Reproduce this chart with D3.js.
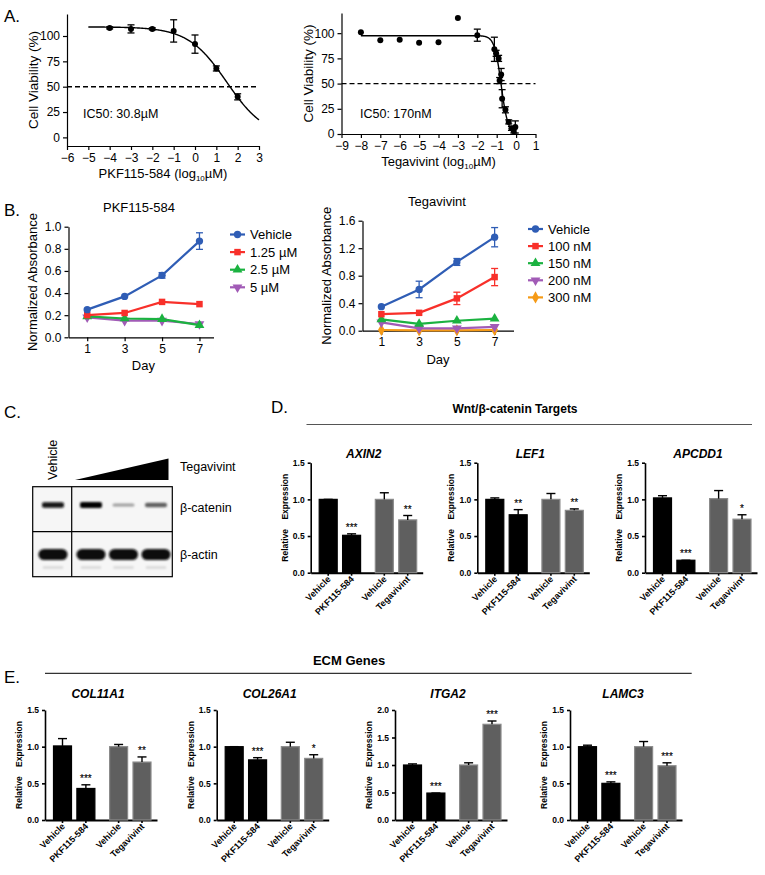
<!DOCTYPE html>
<html>
<head>
<meta charset="utf-8">
<script src="https://cdn.jsdelivr.net/npm/d3@7"></script>
<style>
  body { margin: 0; background: #fff; }
  svg text { font-family: "Liberation Sans", Arial, sans-serif; fill: #000; }
</style>
</head>
<body>
<script>
// ---------- data ----------
// A: dose response (log10 uM, % viability)
var pkfDose = [-4, -3, -2, -1, 0, 1, 2];
var pkfViab = [108, 107, 107, 105, 92, 68, 40];
var pkfErr  = [1, 4, 1, 11, 9, 2.5, 3];
var pkfFit  = { top: 109, bottom: 0, logIC50: 1.489, hill: 0.48, from: -5, to: 3 };

var tegDose = [-8, -7, -6, -5, -4, -3, -2, -1.12, -1.03, -0.9, -0.85, -0.77, -0.72, -0.55, -0.38, -0.24, -0.12, -0.04];
var tegViab = [101, 93, 93.5, 90.5, 91, 115, 98, 84, 80, 75, 53, 59, 35, 24, 12, 5.6, 3, 7];
var tegErr  = [0, 0, 0, 0, 0, 0, 6, 12, 3, 3, 3, 6, 9, 3, 2, 2, 2, 6];
var tegFit  = { top: 97.5, bottom: 0, logIC50: -0.77, hill: 2.5, from: -8, to: -0.02 };

// B: growth curves
var days = [1, 3, 5, 7];
var pkfGrowthLabels = ["Vehicle", "1.25 \u00b5M", "2.5 \u00b5M", "5 \u00b5M"];
var pkfGrowth = [
  [0.25, 0.37, 0.56, 0.87],
  [0.20, 0.22, 0.32, 0.30],
  [0.19, 0.17, 0.165, 0.11],
  [0.18, 0.15, 0.15, 0.12]
];
var pkfGrowthErr = [
  [0.01, 0.01, 0.025, 0.075],
  [0.01, 0.015, 0.015, 0.01],
  [0.01, 0.01, 0.01, 0.01],
  [0.005, 0.005, 0.005, 0.01]
];
var tegGrowthLabels = ["Vehicle", "100 nM", "150 nM", "200 nM", "300 nM"];
var tegGrowth = [
  [0.35, 0.60, 1.00, 1.36],
  [0.24, 0.26, 0.47, 0.78],
  [0.165, 0.10, 0.145, 0.175],
  [0.12, 0.035, 0.035, 0.055],
  [0.01, 0.005, 0.005, 0.01]
];
var tegGrowthErr = [
  [0.01, 0.12, 0.05, 0.14],
  [0.01, 0.01, 0.09, 0.125],
  [0.01, 0.01, 0.01, 0.01],
  [0.01, 0.01, 0.01, 0.01],
  [0, 0, 0, 0]
];
var seriesColors = ["#2f5db5", "#f8302a", "#1bb240", "#a15bb6", "#f59a16"];

// C: western blot band intensities (0..1)
var blotLanes = ["Vehicle", "T1", "T2", "T3"];
var cateninBand = [0.9, 1.0, 0.3, 0.6];
var actinBand = [1, 1, 1, 1];

// D / E: qPCR
var qpcrGroups = ["Vehicle", "PKF115-584", "Vehicle", "Tegavivint"];
var wntGenes = ["AXIN2", "LEF1", "APCDD1"];
var wntMean = [[1.0, 0.51, 1.0, 0.72], [1.0, 0.79, 1.0, 0.85], [1.02, 0.17, 1.01, 0.73]];
var wntErr  = [[0, 0.02, 0.09, 0.06], [0.02, 0.07, 0.08, 0.02], [0.03, 0, 0.11, 0.06]];
var wntStars = [["", "***", "", "**"], ["", "**", "", "**"], ["", "***", "", "*"]];
var wntYMax = [1.5, 1.5, 1.5];

var ecmGenes = ["COL11A1", "COL26A1", "ITGA2", "LAMC3"];
var ecmMean = [[1.01, 0.43, 1.0, 0.79], [1.0, 0.82, 1.0, 0.84], [1.0, 0.49, 1.0, 1.74], [1.0, 0.5, 1.0, 0.74]];
var ecmErr  = [[0.1, 0.05, 0.03, 0.07], [0, 0.03, 0.06, 0.05], [0.02, 0, 0.04, 0.06], [0.02, 0.02, 0.07, 0.04]];
var ecmStars = [["", "***", "", "**"], ["", "***", "", "*"], ["", "***", "", "***"], ["", "***", "", "***"]];
var ecmYMax = [1.5, 1.5, 2.0, 1.5];

// ---------- svg ----------
var svg = d3.select("body").append("svg")
  .attr("width", 765).attr("height", 875);

function letter(t, x, y) {
  svg.append("text").attr("x", x).attr("y", y).attr("font-size", 17).text(t);
}

function styleAxis(g, fs, sw, bold) {
  g.attr("font-family", null).attr("font-size", null);
  g.selectAll("text").attr("font-size", fs).attr("fill", "#000")
    .attr("font-weight", bold ? "bold" : null);
  g.selectAll("line,path").attr("stroke", "#000").attr("stroke-width", sw);
}

// ---------- A ----------
function dosePanel(o) {
  var x = d3.scaleLinear().domain(o.xDomain).range(o.xRange);
  var y = d3.scaleLinear().domain(o.yDomain).range(o.yRange);

  var gx = svg.append("g").attr("transform", "translate(0," + o.yRange[0] + ")")
    .call(d3.axisBottom(x).ticks(o.xDomain[1] - o.xDomain[0]).tickSize(4).tickSizeOuter(0));
  styleAxis(gx, 12, 1.2);
  var gy = svg.append("g").attr("transform", "translate(" + o.xRange[0] + ",0)")
    .call(d3.axisLeft(y).tickValues([0, 25, 50, 75, 100]).tickSize(4).tickSizeOuter(0));
  styleAxis(gy, 12, 1.2);

  // 50% line
  svg.append("line").attr("x1", x(o.xDomain[0])).attr("x2", x(o.xDomain[1]))
    .attr("y1", y(50)).attr("y2", y(50))
    .attr("stroke", "#000").attr("stroke-width", 1.4).attr("stroke-dasharray", "5,3");

  // fitted curve
  var f = o.fit;
  var xs = d3.range(f.from, f.to + 0.001, 0.02);
  svg.append("path")
    .attr("d", d3.line().x(function (d) { return x(d); })
      .y(function (d) { return y(f.bottom + (f.top - f.bottom) / (1 + Math.pow(10, (d - f.logIC50) * f.hill))); })(xs))
    .attr("fill", "none").attr("stroke", "#000").attr("stroke-width", 1.4);

  var pts = o.dose.map(function (d, i) { return { x: d, y: o.viab[i], e: o.err[i] }; });
  var eb = svg.append("g").selectAll("g").data(pts.filter(function (d) { return d.e > 0; })).enter().append("g")
    .attr("stroke", "#000").attr("stroke-width", 1.3);
  eb.append("line").attr("x1", function (d) { return x(d.x); }).attr("x2", function (d) { return x(d.x); })
    .attr("y1", function (d) { return y(d.y - d.e); }).attr("y2", function (d) { return y(d.y + d.e); });
  [-1, 1].forEach(function (s) {
    eb.append("line").attr("x1", function (d) { return x(d.x) - 3.5; }).attr("x2", function (d) { return x(d.x) + 3.5; })
      .attr("y1", function (d) { return y(d.y + s * d.e); }).attr("y2", function (d) { return y(d.y + s * d.e); });
  });
  svg.append("g").selectAll("circle").data(pts).enter().append("circle")
    .attr("cx", function (d) { return x(d.x); }).attr("cy", function (d) { return y(d.y); })
    .attr("r", 3).attr("fill", "#000");

  svg.append("text").attr("x", o.icX).attr("y", o.icY).attr("font-size", 12.5).text(o.ic);

  var xl = svg.append("text").attr("x", (o.xRange[0] + o.xRange[1]) / 2).attr("y", o.yRange[0] + 32)
    .attr("text-anchor", "middle").attr("font-size", 13);
  xl.append("tspan").text(o.drug + " (log");
  xl.append("tspan").attr("font-size", 8).attr("dy", 3).text("10");
  xl.append("tspan").attr("dy", -3).text("\u00b5M)");

  svg.append("text").attr("transform", "translate(" + (o.xRange[0] - 29) + "," + ((o.yRange[0] + o.yRange[1]) / 2) + ") rotate(-90)")
    .attr("text-anchor", "middle").attr("font-size", 13.5).text("Cell Viability (%)");
}

letter("A.", 4, 22);
dosePanel({ dose: pkfDose, viab: pkfViab, err: pkfErr, fit: pkfFit, drug: "PKF115-584",
  xDomain: [-6, 3], xRange: [67, 259], yDomain: [-8.5, 121.7], yRange: [146, 14],
  ic: "IC50: 30.8\u00b5M", icX: 83, icY: 118 });
dosePanel({ dose: tegDose, viab: tegViab, err: tegErr, fit: tegFit, drug: "Tegavivint",
  xDomain: [-9, 1], xRange: [341.5, 535.5], yDomain: [0, 120], yRange: [134, 13],
  ic: "IC50: 170nM", icX: 360, icY: 118 });

// ---------- B ----------
var symbols = [d3.symbolCircle, d3.symbolSquare, d3.symbolTriangle, d3.symbolTriangle, d3.symbolDiamond];
var symRot = [0, 0, 0, 180, 0];

function growthPanel(o) {
  var x = d3.scaleLinear().domain(o.xDomain).range(o.xRange);
  var y = d3.scaleLinear().domain(o.yDomain).range(o.yRange);
  var gx = svg.append("g").attr("transform", "translate(0," + o.yRange[0] + ")")
    .call(d3.axisBottom(x).tickValues(days).tickSize(4).tickSizeOuter(0));
  styleAxis(gx, 12, 1.2);
  var gy = svg.append("g").attr("transform", "translate(" + o.xRange[0] + ",0)")
    .call(d3.axisLeft(y).tickValues(o.yTicks).tickFormat(d3.format(".1f")).tickSize(4).tickSizeOuter(0));
  styleAxis(gy, 12, 1.2);

  // draw last series first so Vehicle is on top
  d3.range(o.values.length).reverse().forEach(function (s) {
    var c = seriesColors[s];
    var pts = days.map(function (d, i) { return { x: d, y: o.values[s][i], e: o.errs[s][i] }; });
    svg.append("path").attr("d", d3.line().x(function (d) { return x(d.x); }).y(function (d) { return y(d.y); })(pts))
      .attr("fill", "none").attr("stroke", c).attr("stroke-width", 2.2);
    var eb = svg.append("g").attr("stroke", c).attr("stroke-width", 1.3)
      .selectAll("g").data(pts.filter(function (d) { return d.e > 0.015; })).enter().append("g");
    eb.append("line").attr("x1", function (d) { return x(d.x); }).attr("x2", function (d) { return x(d.x); })
      .attr("y1", function (d) { return y(d.y - d.e); }).attr("y2", function (d) { return y(d.y + d.e); });
    [-1, 1].forEach(function (k) {
      eb.append("line").attr("x1", function (d) { return x(d.x) - 3.5; }).attr("x2", function (d) { return x(d.x) + 3.5; })
        .attr("y1", function (d) { return y(d.y + k * d.e); }).attr("y2", function (d) { return y(d.y + k * d.e); });
    });
    svg.append("g").selectAll("path").data(pts).enter().append("path")
      .attr("d", d3.symbol().type(symbols[s]).size(42))
      .attr("transform", function (d) { return "translate(" + x(d.x) + "," + y(d.y) + ") rotate(" + symRot[s] + ")"; })
      .attr("fill", c);
  });

  svg.append("text").attr("x", o.titleX).attr("y", o.titleY).attr("text-anchor", "middle")
    .attr("font-size", 13).text(o.title);
  svg.append("text").attr("x", x(4)).attr("y", o.yRange[0] + 33).attr("text-anchor", "middle")
    .attr("font-size", 13).text("Day");
  svg.append("text").attr("transform", "translate(" + (o.xRange[0] - 32) + "," + ((o.yRange[0] + o.yRange[1]) / 2) + ") rotate(-90)")
    .attr("text-anchor", "middle").attr("font-size", 13).text("Normalized Absorbance");

  // legend
  var lg = svg.append("g").selectAll("g").data(o.labels).enter().append("g")
    .attr("transform", function (d, i) { return "translate(" + o.legX + "," + (o.legY + i * o.legStep) + ")"; });
  lg.append("line").attr("x1", 0).attr("x2", 15).attr("stroke", function (d, i) { return seriesColors[i]; })
    .attr("stroke-width", 2.2);
  lg.append("path").attr("d", function (d, i) { return d3.symbol().type(symbols[i]).size(42)(); })
    .attr("transform", function (d, i) { return "translate(7.5,0) rotate(" + symRot[i] + ")"; })
    .attr("fill", function (d, i) { return seriesColors[i]; });
  lg.append("text").attr("x", 20).attr("y", 4.5).attr("font-size", 13).text(function (d) { return d; });
}

letter("B.", 4, 216);
growthPanel({ values: pkfGrowth, errs: pkfGrowthErr, labels: pkfGrowthLabels, title: "PKF115-584",
  xDomain: [0, 7.75], xRange: [68.5, 213.5], yDomain: [0, 1], yRange: [337.3, 226.7], yTicks: [0, 0.2, 0.4, 0.6, 0.8, 1.0],
  titleX: 139, titleY: 212, legX: 230, legY: 234.5, legStep: 17.6 });
growthPanel({ values: tegGrowth, errs: tegGrowthErr, labels: tegGrowthLabels, title: "Tegavivint",
  xDomain: [0, 8], xRange: [362.5, 513.5], yDomain: [0, 1.6], yRange: [330.7, 220.7], yTicks: [0, 0.4, 0.8, 1.2, 1.6],
  titleX: 437, titleY: 206, legX: 528, legY: 229, legStep: 17.1 });

// ---------- C ----------
letter("C.", 4, 418);
var defs = svg.append("defs");
defs.append("filter").attr("id", "blur").append("feGaussianBlur").attr("stdDeviation", 0.9);
var lane = d3.scaleOrdinal().domain(blotLanes).range([53, 91, 123.5, 156]);
var blotL = 32.7, blotR = 172.3, blotT = 486.7, blotM = 531.7, blotB = 576.7;
svg.append("rect").attr("x", blotL).attr("y", blotT).attr("width", blotR - blotL).attr("height", blotB - blotT)
  .attr("fill", "#f6f6f6");
var bands = svg.append("g").attr("filter", "url(#blur)");
bands.selectAll(".cat").data(blotLanes).enter().append("rect")
  .attr("x", function (d) { return lane(d) - 11; }).attr("width", 22)
  .attr("y", function (d, i) { return 505 - 1 - 2 * cateninBand[i]; })
  .attr("height", function (d, i) { return 2 + 4 * cateninBand[i]; })
  .attr("rx", 2)
  .attr("fill", function (d, i) { return d3.interpolateGreys(0.25 + 0.75 * cateninBand[i]); });
bands.selectAll(".act").data(blotLanes).enter().append("rect")
  .attr("x", function (d) { return lane(d) - 14.5; }).attr("width", 29)
  .attr("y", function (d, i) { return 554.5 - 5.5 * actinBand[i]; })
  .attr("height", function (d, i) { return 11 * actinBand[i]; })
  .attr("rx", 5.5).attr("fill", "#0d0d0d");
bands.selectAll(".faint").data(blotLanes).enter().append("rect")
  .attr("x", function (d) { return lane(d) - 10; }).attr("width", 20)
  .attr("y", 566.5).attr("height", 2).attr("fill", "#d0d0d0");
svg.append("rect").attr("x", blotL).attr("y", blotT).attr("width", blotR - blotL).attr("height", blotB - blotT)
  .attr("fill", "none").attr("stroke", "#000").attr("stroke-width", 1.2);
svg.append("line").attr("x1", blotL).attr("x2", blotR).attr("y1", blotM).attr("y2", blotM)
  .attr("stroke", "#000").attr("stroke-width", 1.2);
svg.append("line").attr("x1", 71.7).attr("x2", 71.7).attr("y1", blotT).attr("y2", blotB)
  .attr("stroke", "#000").attr("stroke-width", 1.2);
svg.append("polygon").attr("points", [[75, 480], [168.5, 458.5], [168.5, 480]].join(" ")).attr("fill", "#000");
svg.append("text").attr("transform", "translate(57,480) rotate(-90)").attr("font-size", 12.5).text("Vehicle");
svg.append("text").attr("x", 180).attr("y", 471).attr("font-size", 12.5).text("Tegavivint");
svg.append("text").attr("x", 180).attr("y", 511.5).attr("font-size", 12.5).text("\u03b2-catenin");
svg.append("text").attr("x", 180).attr("y", 558.5).attr("font-size", 12.5).text("\u03b2-actin");

// ---------- D / E ----------
var barFill = ["#000", "#000", "#5f5f5f", "#5f5f5f"];
var barEdge = ["#000", "#000", "#8a8a8a", "#8a8a8a"];
var barSlot = [0, 1, 2.4, 3.4];

function barPanel(x0, yTop, yBot, yMax, title, means, errs, stars, titleY) {
  var y = d3.scaleLinear().domain([0, yMax]).range([yBot, yTop]);
  var xs = d3.scaleLinear().domain([0, 3.4]).range([x0 + 17.5, x0 + 97]);
  var bw = 18;
  var g = svg.append("g");
  var gy = g.append("g").attr("transform", "translate(" + x0 + ",0)")
    .call(d3.axisLeft(y).ticks(yMax / 0.5).tickFormat(d3.format(".1f")).tickSize(3).tickSizeOuter(0));
  styleAxis(gy, 8.5, 1.6, true);
  var gx = g.append("g").attr("transform", "translate(0," + yBot + ")")
    .call(d3.axisBottom(d3.scaleLinear().domain([0, 1]).range([x0, x0 + 112])).tickValues([]).tickSizeOuter(0));
  styleAxis(gx, 8, 2, true);
  // ticks under bars
  g.selectAll(".tk").data(qpcrGroups).enter().append("line")
    .attr("x1", function (d, i) { return xs(barSlot[i]); }).attr("x2", function (d, i) { return xs(barSlot[i]); })
    .attr("y1", yBot).attr("y2", yBot + 3).attr("stroke", "#000").attr("stroke-width", 1.6);
  g.selectAll(".xl").data(qpcrGroups).enter().append("text")
    .attr("transform", function (d, i) { return "translate(" + (xs(barSlot[i]) + 3) + "," + (yBot + 7) + ") rotate(-45)"; })
    .attr("text-anchor", "end").attr("font-size", 9).attr("font-weight", "bold").text(function (d) { return d; });

  g.selectAll(".bar").data(means).enter().append("rect")
    .attr("x", function (d, i) { return xs(barSlot[i]) - bw / 2; }).attr("width", bw)
    .attr("y", function (d) { return y(d); }).attr("height", function (d) { return yBot - y(d); })
    .attr("fill", function (d, i) { return barFill[i]; })
    .attr("stroke", function (d, i) { return barEdge[i]; }).attr("stroke-width", 1.2);
  var eb = g.selectAll(".eb").data(means).enter().append("g").attr("stroke", "#000").attr("stroke-width", 1.4);
  eb.append("line").attr("x1", function (d, i) { return xs(barSlot[i]); }).attr("x2", function (d, i) { return xs(barSlot[i]); })
    .attr("y1", function (d) { return y(d); }).attr("y2", function (d, i) { return y(d + errs[i]); });
  eb.append("line").attr("x1", function (d, i) { return xs(barSlot[i]) - 4.5; }).attr("x2", function (d, i) { return xs(barSlot[i]) + 4.5; })
    .attr("y1", function (d, i) { return y(d + errs[i]); }).attr("y2", function (d, i) { return y(d + errs[i]); });
  g.selectAll(".st").data(stars).enter().append("text")
    .attr("x", function (d, i) { return xs(barSlot[i]); })
    .attr("y", function (d, i) { return y(means[i] + errs[i]) - 3; })
    .attr("text-anchor", "middle").attr("font-size", 10).attr("fill", "#000")
    .attr("stroke", "#000").attr("stroke-width", 0.15)
    .text(function (d) { return d; });

  g.append("text").attr("x", x0 + 53).attr("y", titleY).attr("text-anchor", "middle")
    .attr("font-size", 12).attr("font-weight", "bold").attr("font-style", "italic").text(title);
  g.append("text").attr("transform", "translate(" + (x0 - 23) + "," + ((yTop + yBot) / 2) + ") rotate(-90)")
    .attr("text-anchor", "middle").attr("font-size", 8.5).attr("font-weight", "bold")
    .attr("xml:space", "preserve").text("Relative    Expression");
}

letter("D.", 271, 413);
svg.append("text").attr("x", 515).attr("y", 412.5).attr("text-anchor", "middle")
  .attr("font-size", 12).attr("font-weight", "bold").text("Wnt/\u03b2-catenin Targets");
svg.append("line").attr("x1", 306.5).attr("x2", 752).attr("y1", 424.5).attr("y2", 424.5)
  .attr("stroke", "#555").attr("stroke-width", 1.2);
var wntX = [310.7, 477.3, 645];
wntGenes.forEach(function (gname, i) {
  barPanel(wntX[i], 462.7, 572.7, wntYMax[i], gname, wntMean[i], wntErr[i], wntStars[i], 458);
});

letter("E.", 4, 683);
svg.append("text").attr("x", 349).attr("y", 664.5).attr("text-anchor", "middle")
  .attr("font-size", 13).attr("font-weight", "bold").text("ECM Genes");
svg.append("line").attr("x1", 45).attr("x2", 691.7).attr("y1", 673.3).attr("y2", 673.3)
  .attr("stroke", "#333").attr("stroke-width", 1.2);
var ecmX = [45, 216.7, 395, 570];
ecmGenes.forEach(function (gname, i) {
  barPanel(ecmX[i], 710, 820, ecmYMax[i], gname, ecmMean[i], ecmErr[i], ecmStars[i], 697.5);
});
</script>
</body>
</html>
